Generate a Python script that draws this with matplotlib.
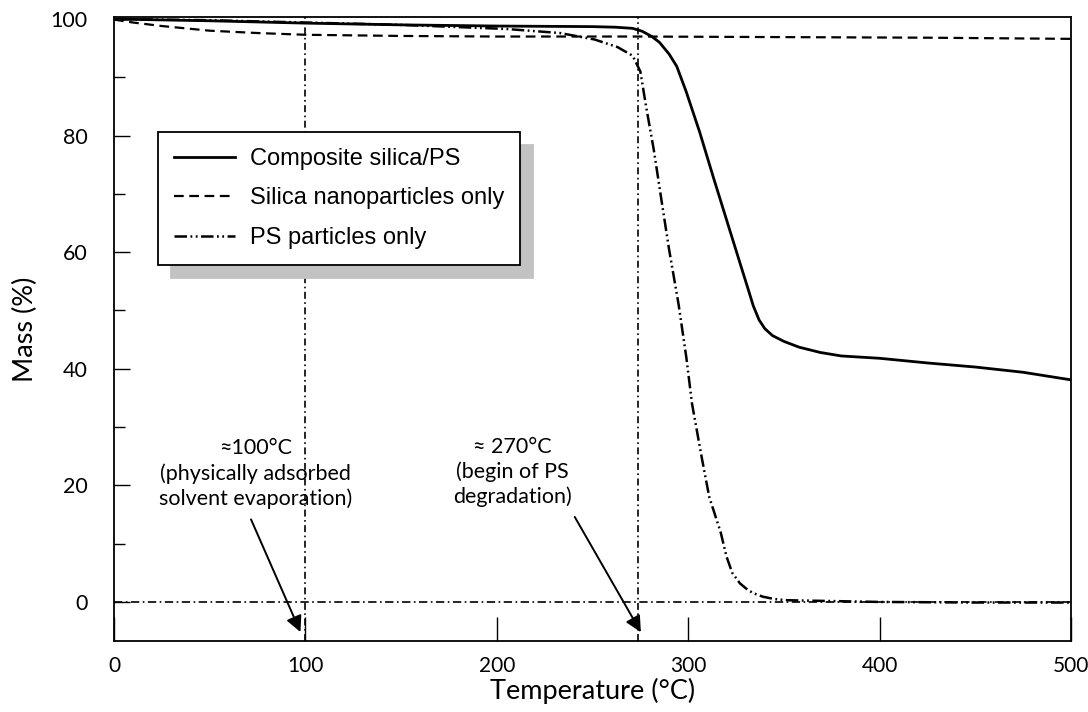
import numpy as np
import matplotlib
matplotlib.use("Agg")
import matplotlib.pyplot as plt
from matplotlib.ticker import MultipleLocator

# data
comp_t = [0, 50, 100, 150, 200, 250, 262, 271, 276, 281, 285, 290, 294, 299, 306,
          313, 320, 327, 331, 334, 337, 340, 344, 350, 358, 369, 380, 400, 425, 450, 475, 500]
comp_m = [100, 99.7, 99.3, 99.0, 98.8, 98.7, 98.6, 98.4, 97.9, 97.0, 96.0, 94.0, 91.9,
          87.5, 80.6, 73.0, 65.6, 58.2, 54.0, 50.8, 48.4, 46.9, 45.7, 44.7, 43.7, 42.8,
          42.2, 41.8, 41.0, 40.3, 39.4, 38.1]

silica_t = [0, 10, 25, 50, 75, 100, 150, 200, 275, 350, 425, 500]
silica_m = [99.9, 99.4, 98.8, 98.0, 97.6, 97.3, 97.1, 97.0, 97.0, 96.9, 96.8, 96.6]

ps_t = [0, 50, 100, 150, 205, 233, 251, 263, 271, 275, 278, 282, 286, 290, 295, 299,
        302, 307, 311, 317, 320, 323, 327, 331, 334, 339, 345, 351, 400, 450, 500]
ps_m = [100, 99.8, 99.4, 99.0, 98.3, 97.6, 96.5, 95.2, 93.7, 91.0, 85.0, 77.6, 69.0,
        60.5, 51.0, 42.0, 34.0, 24.9, 18.0, 11.9, 7.8, 5.0, 3.2, 2.1, 1.5, 0.9, 0.5,
        0.3, 0.0, -0.1, -0.1]

labels = ["Composite silica/PS", "Silica nanoparticles only", "PS particles only"]
marks = [100, 274]  # vertical guide lines (°C)
notes = ["≈100°C\n(physically adsorbed\nsolvent evaporation)",
         "≈ 270°C\n(begin of PS\ndegradation)"]

plt.rcParams['lines.scale_dashes'] = False
plt.rcParams['font.family'] = ['Lato', 'DejaVu Sans']

fig = plt.figure(figsize=(10.88, 7.12), dpi=100)
ax = fig.add_axes([114/1088, 1 - 641/712, (1071-114)/1088, (641-17)/712])

# guide lines
ax.axhline(0, color='black', lw=1.2, dashes=(6, 2.5, 1.2, 2.5), zorder=1)
for m in marks:
    ax.axvline(m, color='black', lw=1.2, dashes=(5, 2.5, 1.2, 2.5), zorder=1)

ax.plot(comp_t, comp_m, color='black', lw=2.0, label=labels[0])
ax.plot(silica_t, silica_m, color='black', lw=1.6, dashes=(7, 4), label=labels[1])
ax.plot(ps_t, ps_m, color='black', lw=1.8, dashes=(9, 2.5, 1.3, 2.5, 1.3, 2.5),
        label=labels[2])

ax.set_xlim(0, 500)
ax.set_ylim(-6.7, 100.35)
ax.xaxis.set_major_locator(MultipleLocator(100))
ax.yaxis.set_major_locator(MultipleLocator(20))
ax.yaxis.set_minor_locator(MultipleLocator(10))
ax.tick_params(axis='x', which='major', direction='in', length=17, width=1,
               pad=11, labelsize=15, top=False)
ax.tick_params(axis='y', which='major', direction='in', length=11.5, width=1,
               pad=19, labelsize=15.5, right=False)
ax.tick_params(axis='y', which='minor', direction='in', length=8, width=1, right=False)
for s in ax.spines.values():
    s.set_linewidth(1.3)

ax.set_xlabel("Temperature (°C)", fontsize=19.5, labelpad=1)
ax.set_ylabel("Mass (%)", fontsize=19.5, labelpad=9)

# annotations
ax.text(74, 22.0, notes[0], ha='center', va='center', fontsize=15.5, linespacing=1.28)
ax.annotate("", xy=(98, -5.6), xytext=(71, 14.6),
            arrowprops=dict(arrowstyle='-|>', color='black', lw=1.4, mutation_scale=24))
ax.text(208, 22.3, notes[1], ha='center', va='center', fontsize=15.5, linespacing=1.28)
ax.annotate("", xy=(276, -5.6), xytext=(240, 15.0),
            arrowprops=dict(arrowstyle='-|>', color='black', lw=1.4, mutation_scale=24))

leg = ax.legend(loc='upper left', bbox_to_anchor=(0.046, 0.816), borderaxespad=0,
                fancybox=False, edgecolor='black', framealpha=1,
                prop={'family': 'Liberation Sans', 'size': 17},
                handlelength=2.6, handletextpad=0.6, labelspacing=0.74,
                borderpad=0.68,
                shadow={'ox': 9.5, 'oy': -9.5, 'color': '#c2c2c2', 'alpha': 1})
leg.get_frame().set_linewidth(1.3)

fig.savefig("out.png", dpi=100)
